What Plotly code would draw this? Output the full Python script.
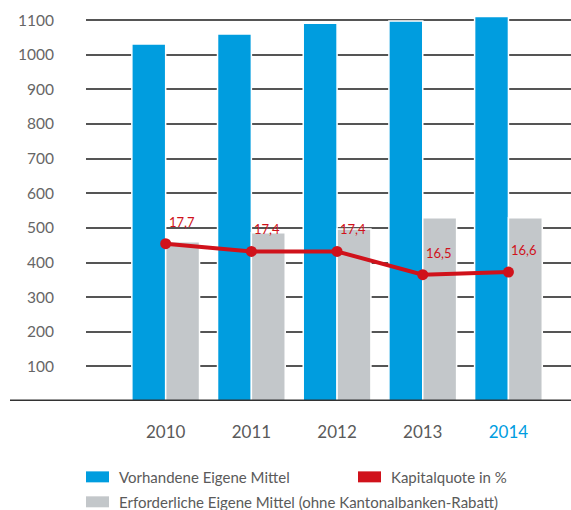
import plotly.graph_objects as go

# ---- data ----
years = ["2010", "2011", "2012", "2013", "2014"]
vorhandene = [1031, 1060, 1091, 1098, 1111]
erforderliche = [460, 486, 497, 529, 529]
kapitalquote = [17.7, 17.4, 17.4, 16.5, 16.6]
y_ticks = [100, 200, 300, 400, 500, 600, 700, 800, 900, 1000, 1100]
legend_names = ["Vorhandene Eigene Mittel", "Kapitalquote in %",
                "Erforderliche Eigene Mittel (ohne Kantonalbanken-Rabatt)"]

BLUE = "#009ddf"
GRAY = "#c3c7ca"
RED = "#d0121b"
TXT = "#5a5a5a"
FONT = "Lato"

W, H = 571, 510
L, R, T, B = 86, 0, 14.8, 108.5
PW, PH = W - L - R, H - T - B

def px_x(px):
    return (px - L) / PW

def px_y(py):
    return (H - B - py) / PH

fig = go.Figure()
fig.add_trace(go.Bar(x=years, y=vorhandene, name=legend_names[0],
                     marker=dict(color=BLUE, line=dict(color="white", width=1.5)),
                     showlegend=False))
fig.add_trace(go.Bar(x=years, y=erforderliche, name=legend_names[2],
                     marker=dict(color=GRAY, line=dict(color="white", width=1.5)),
                     showlegend=False))
fig.add_trace(go.Scatter(x=years, y=kapitalquote, name=legend_names[1], yaxis="y2",
                         mode="lines+markers", line=dict(color=RED, width=4),
                         marker=dict(color=RED, size=11), showlegend=False))

# value labels (category index used as x position on the category axis)
for i, q in enumerate(kapitalquote):
    fig.add_annotation(x=i, y=q, xref="x", yref="y2", text=f"{q:.1f}".replace(".", ","),
                       showarrow=False, xshift=16, yshift=22,
                       font=dict(family=FONT, size=13, color=RED))

ticktext = [y if y != years[-1] else f"<span style='color:{BLUE}'>{y}</span>" for y in years]

fig.update_layout(
    width=W, height=H,
    margin=dict(l=L, r=R, t=T, b=B, pad=0),
    paper_bgcolor="white", plot_bgcolor="white",
    barmode="group", bargap=0.21, bargroupgap=0.0,
    font=dict(family=FONT, color=TXT),
    xaxis=dict(type="category", range=[-0.93, 4.73], showgrid=False, zeroline=False,
               showline=False, ticks="outside", ticklen=16, tickcolor="rgba(0,0,0,0)",
               tickvals=years, ticktext=ticktext, tickfont=dict(size=17, color=TXT, family=FONT)),
    yaxis=dict(range=[0, 1115], tickvals=y_ticks, showgrid=True, gridcolor="#555555",
               gridwidth=1.5, zeroline=False, showline=False, ticks="outside", ticklen=28,
               tickcolor="rgba(0,0,0,0)", tickfont=dict(size=15.5, color="#666666", family=FONT)),
    yaxis2=dict(overlaying="y", side="right", range=[11.60, 26.57], showgrid=False,
                zeroline=False, showline=False, showticklabels=False, ticks=""),
)

# baseline
fig.add_shape(type="line", xref="paper", yref="y", x0=px_x(10), x1=1, y0=0, y1=0,
              line=dict(color="#333333", width=3), layer="above")

# custom legend
legend_items = [
    (legend_names[0], BLUE, 86, 117, 477.5),
    (legend_names[1], RED, 358, 389, 477.5),
    (legend_names[2], GRAY, 86, 117, 502.5),
]
for name, col, sx, tx, cy in legend_items:
    fig.add_shape(type="rect", xref="paper", yref="paper",
                  x0=px_x(sx), x1=px_x(sx + 23), y0=px_y(cy + 5.5), y1=px_y(cy - 5.5),
                  fillcolor=col, line=dict(width=0))
    fig.add_annotation(xref="paper", yref="paper", x=px_x(tx), y=px_y(cy),
                       xanchor="left", yanchor="middle", text=name, showarrow=False,
                       font=dict(family=FONT, size=15, color=TXT))

fig.write_html("out.html", config={"displayModeBar": False},
               post_script="document.body.style.margin='0';")
